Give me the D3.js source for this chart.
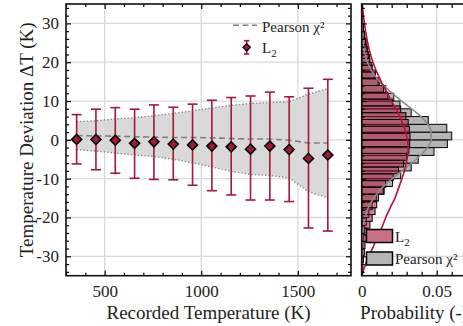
<!DOCTYPE html>
<html><head><meta charset="utf-8">
<script src="https://cdn.jsdelivr.net/npm/d3@7"></script>
<style>
body{margin:0;background:#fff;}
svg{display:block;font-family:"Liberation Serif","Times New Roman",serif;}
</style>
</head><body>
<svg id="c" width="463" height="326"></svg>
<script>
// ---------- data ----------
const temps        = [355,455,555,655,755,855,955,1055,1155,1255,1355,1455,1555,1655];
const l2Mean       = [0.1,0.1,-0.1,-0.9,-0.5,-1.1,-1.3,-1.6,-1.8,-2.4,-1.6,-2.5,-4.8,-3.9];
const l2Upper      = [6.5,7.9,8.3,7.9,9.0,8.4,9.2,10.2,10.9,11.3,12.3,11.1,13.3,15.6];
const l2Lower      = [-6.2,-7.7,-8.6,-9.9,-10.2,-10.3,-11.7,-13.1,-14.2,-15.5,-15.5,-15.9,-22.7,-23.5];
const pearsonMean  = [1.1,1.0,0.95,0.8,0.7,0.6,0.6,0.5,0.35,0.2,0.2,-0.1,-0.8,-0.8];
const pearsonUpper = [4.7,4.9,5.4,5.7,6.2,6.8,7.5,8.2,8.9,9.4,9.6,9.8,11.8,13.2];
const pearsonLower = [-2.5,-2.9,-3.4,-3.9,-4.3,-5.0,-5.9,-7.0,-8.1,-8.9,-9.2,-9.8,-13.4,-14.9];

// histogram of L2 deviations (bin width 1.75 K, from -35 to 35)
const histL2Start = -35, histL2Width = 1.75;
const histL2 = [0.0004,0.0008,0.0012,0.0018,0.0022,0.0030,0.0037,0.0055,0.0070,0.0089,
                0.0100,0.0112,0.0144,0.0160,0.0210,0.0245,0.0280,0.0300,0.0315,0.0320,
                0.0322,0.0318,0.0310,0.0295,0.0260,0.0205,0.0175,0.0145,0.0110,0.0090,
                0.0070,0.0055,0.0045,0.0035,0.0025,0.0018,0.0010,0.0006,0.0003,0.0001];
// histogram of Pearson deviations (bin width 2 K, from -34 to 34)
const histPStart = -34, histPWidth = 2;
const histPearson = [0,0.0002,0.0005,0.0008,0.0013,0.0020,0.0032,0.0048,0.0070,0.0098,
                     0.0150,0.0205,0.0260,0.0330,0.0377,0.0482,0.0571,0.0600,0.0567,0.0444,
                     0.0330,0.0255,0.0214,0.0160,0.0120,0.0092,0.0068,0.0052,0.0040,0.0030,
                     0.0020,0.0012,0.0006,0.0002];

// fitted density curves
const curveDT      = [-35,-32.5,-30,-27.5,-25,-22.5,-20,-17.5,-15,-12.5,-10,-7.5,-5,-2.5,0,
                      2.5,5,7.5,10,12.5,15,17.5,20,22.5,25,27.5,30,32.5,35];
const curveL2      = [0.0000,0.0022,0.0046,0.0078,0.0102,0.0135,0.0160,0.0190,0.0222,0.0245,0.0268,0.0288,0.0302,0.0310,0.0305,
                      0.0290,0.0265,0.0235,0.0198,0.0165,0.0130,0.0100,0.0075,0.0055,0.0040,0.0028,0.0018,0.0010,0.0005];
const curvePearson = [0.0000,0.0000,0.0001,0.0002,0.0004,0.0010,0.0022,0.0044,0.0080,0.0132,0.0203,0.0283,0.0364,0.0429,0.0464,
                      0.0460,0.0420,0.0349,0.0266,0.0189,0.0120,0.0071,0.0038,0.0018,0.0009,0.0004,0.0001,0.0000,0.0000];

const xTicks = [500,1000,1500];
const xMinor = [300,400,600,700,800,900,1100,1200,1300,1400,1600,1700];
const yTicks = [-30,-20,-10,0,10,20,30];
const yMinor = d3.range(-34,35,2).filter(v => v % 10 !== 0);
const pTicks = [0,0.05];
const pTickLabels = ["0","0.05"];
const pMinor = [0.01,0.02,0.03,0.04,0.06,0.07];

// ---------- colours ----------
const crimson = "#a6173c";
const svg = d3.select("#c");

// ---------- scales ----------
const L = 66, R = 351, T = 4, B = 275.7;
const HL = 361.7, HR = 466.7;
const x = d3.scaleLinear().domain([300,1775]).range([L,R]);
const y = d3.scaleLinear().domain([-35,35]).range([B,T]);
const px = d3.scaleLinear().domain([0,0.07]).range([HL,HR]);

// ---------- grid ----------
const grid = svg.append("g").attr("stroke","#dadada").attr("stroke-width",1.3);
grid.selectAll("line.gx").data(xTicks).join("line")
  .attr("x1",d=>x(d)).attr("x2",d=>x(d)).attr("y1",T).attr("y2",B);
grid.selectAll("line.gy").data(yTicks).join("line")
  .attr("x1",L).attr("x2",R).attr("y1",d=>y(d)).attr("y2",d=>y(d));
grid.selectAll("line.hy").data(yTicks).join("line").attr("class","hy")
  .attr("x1",HL).attr("x2",HR).attr("y1",d=>y(d)).attr("y2",d=>y(d));
grid.selectAll("line.hx").data([0.05]).join("line").attr("class","hx")
  .attr("x1",d=>px(d)).attr("x2",d=>px(d)).attr("y1",T).attr("y2",B);

// ---------- main panel ----------
const idx = d3.range(temps.length);
svg.append("path").datum(idx)
  .attr("fill","#d9d9d9")
  .attr("d", d3.area().x(i=>x(temps[i])).y0(i=>y(pearsonLower[i])).y1(i=>y(pearsonUpper[i])));
[pearsonUpper,pearsonLower].forEach(arr=>{
  svg.append("path").datum(idx).attr("fill","none").attr("stroke","#8a8a8a")
    .attr("stroke-width",1.4).attr("stroke-dasharray","1.4,2")
    .attr("d", d3.line().x(i=>x(temps[i])).y(i=>y(arr[i])));
});
svg.append("path").datum(idx).attr("fill","none").attr("stroke","#808080")
  .attr("stroke-width",1.6).attr("stroke-dasharray","6,3.5")
  .attr("d", d3.line().x(i=>x(temps[i])).y(i=>y(pearsonMean[i])));

const eb = svg.append("g").attr("stroke",crimson).attr("stroke-width",1.6);
eb.selectAll("line.v").data(idx).join("line")
  .attr("x1",i=>x(temps[i])).attr("x2",i=>x(temps[i]))
  .attr("y1",i=>y(l2Upper[i])).attr("y2",i=>y(l2Lower[i]));
eb.selectAll("line.ct").data(idx).join("line").attr("class","ct")
  .attr("x1",i=>x(temps[i])-5).attr("x2",i=>x(temps[i])+5)
  .attr("y1",i=>y(l2Upper[i])).attr("y2",i=>y(l2Upper[i]));
eb.selectAll("line.cb").data(idx).join("line").attr("class","cb")
  .attr("x1",i=>x(temps[i])-5).attr("x2",i=>x(temps[i])+5)
  .attr("y1",i=>y(l2Lower[i])).attr("y2",i=>y(l2Lower[i]));
const diamond = s => `M0,${-s}L${s},0L0,${s}L${-s},0Z`;
svg.selectAll("path.mk").data(idx).join("path").attr("class","mk")
  .attr("d",diamond(5)).attr("transform",i=>`translate(${x(temps[i])},${y(l2Mean[i])})`)
  .attr("fill","#a01a38").attr("stroke","#000").attr("stroke-width",1.6);

// axes main
function axisStyle(g){ g.select(".domain").remove(); g.selectAll("line").attr("stroke","#000").attr("stroke-width",1.2);
  g.selectAll("text").attr("font-size",17).attr("font-family","Liberation Serif").attr("fill","#222"); }
svg.append("g").attr("transform",`translate(${L},0)`)
  .call(d3.axisLeft(y).tickValues(yTicks).tickSize(-5).tickPadding(7).tickFormat(d=>String(d))).call(axisStyle);
svg.append("g").attr("transform",`translate(${L},0)`)
  .call(d3.axisLeft(y).tickValues(yMinor).tickSize(-3).tickFormat("")).call(axisStyle);
svg.append("g").attr("transform",`translate(${R},0)`)
  .call(d3.axisRight(y).tickValues(yTicks).tickSize(-5).tickFormat("")).call(axisStyle);
svg.append("g").attr("transform",`translate(${R},0)`)
  .call(d3.axisRight(y).tickValues(yMinor).tickSize(-3).tickFormat("")).call(axisStyle);
svg.append("g").attr("transform",`translate(0,${B})`)
  .call(d3.axisBottom(x).tickValues(xTicks).tickSize(-5).tickPadding(9).tickFormat(d=>String(d))).call(axisStyle);
svg.append("g").attr("transform",`translate(0,${B})`)
  .call(d3.axisBottom(x).tickValues(xMinor).tickSize(-3).tickFormat("")).call(axisStyle);
svg.append("g").attr("transform",`translate(0,${T})`)
  .call(d3.axisTop(x).tickValues(xTicks).tickSize(-5).tickFormat("")).call(axisStyle);
svg.append("g").attr("transform",`translate(0,${T})`)
  .call(d3.axisTop(x).tickValues(xMinor).tickSize(-3).tickFormat("")).call(axisStyle);
svg.append("rect").attr("x",L).attr("y",T).attr("width",R-L).attr("height",B-T)
  .attr("fill","none").attr("stroke","#111").attr("stroke-width",1.6);

// main legend
svg.append("line").attr("x1",233).attr("x2",257).attr("y1",25.3).attr("y2",25.3)
  .attr("stroke","#808080").attr("stroke-width",1.6).attr("stroke-dasharray","6,3.5");
svg.append("text").attr("x",262).attr("y",31.5).attr("font-size",15).attr("fill","#222").text("Pearson χ²");
svg.append("line").attr("x1",246.7).attr("x2",246.7).attr("y1",40.7).attr("y2",54).attr("stroke",crimson).attr("stroke-width",1.6);
svg.append("line").attr("x1",244).attr("x2",249.4).attr("y1",40.7).attr("y2",40.7).attr("stroke",crimson).attr("stroke-width",1.6);
svg.append("line").attr("x1",244).attr("x2",249.4).attr("y1",54).attr("y2",54).attr("stroke",crimson).attr("stroke-width",1.6);
svg.append("path").attr("d",diamond(3.6)).attr("transform","translate(246.7,47.3)")
  .attr("fill","#a01a38").attr("stroke","#000").attr("stroke-width",1.4);
const tL = svg.append("text").attr("x",262).attr("y",53.3).attr("font-size",15).attr("fill","#222");
tL.append("tspan").text("L"); tL.append("tspan").attr("dy",4).attr("font-size",11).text("2");

// axis titles
svg.append("text").attr("x",(L+R)/2).attr("y",319).attr("text-anchor","middle")
  .attr("font-size",19).attr("fill","#222").text("Recorded Temperature (K)");
svg.append("text").attr("transform",`translate(33,${(T+B)/2}) rotate(-90)`).attr("text-anchor","middle")
  .attr("font-size",19).attr("fill","#222").text("Temperature Deviation ΔT (K)");

// ---------- histogram panel ----------
svg.append("g").selectAll("rect").data(histPearson).join("rect")
  .attr("x",HL).attr("width",d=>px(d)-HL)
  .attr("y",(d,i)=>y(histPStart+(i+1)*histPWidth))
  .attr("height",(d,i)=>y(histPStart+i*histPWidth)-y(histPStart+(i+1)*histPWidth))
  .attr("fill","#b4b4b4").attr("stroke","#000").attr("stroke-width",1);
svg.append("g").selectAll("rect").data(histL2).join("rect")
  .attr("x",HL).attr("width",d=>px(d)-HL)
  .attr("y",(d,i)=>y(histL2Start+(i+1)*histL2Width))
  .attr("height",(d,i)=>y(histL2Start+i*histL2Width)-y(histL2Start+(i+1)*histL2Width))
  .attr("fill","rgba(170,20,60,0.55)").attr("stroke","#000").attr("stroke-width",1);
const cIdx = d3.range(curveDT.length);
svg.append("path").datum(cIdx).attr("fill","none").attr("stroke","#8c8c8c").attr("stroke-width",1.6)
  .attr("d", d3.line().curve(d3.curveMonotoneY).x(i=>px(curvePearson[i])).y(i=>y(curveDT[i])));
svg.append("path").datum(cIdx).attr("fill","none").attr("stroke","#b3123c").attr("stroke-width",1.6)
  .attr("d", d3.line().curve(d3.curveMonotoneY).x(i=>px(curveL2[i])).y(i=>y(curveDT[i])));

svg.append("g").attr("transform",`translate(0,${B})`)
  .call(d3.axisBottom(px).tickValues(pTicks).tickSize(-5).tickPadding(9).tickFormat((d,i)=>pTickLabels[i])).call(axisStyle);
svg.append("g").attr("transform",`translate(0,${B})`)
  .call(d3.axisBottom(px).tickValues(pMinor).tickSize(-4).tickFormat("")).call(axisStyle);
svg.append("g").attr("transform",`translate(0,${T})`)
  .call(d3.axisTop(px).tickValues(pTicks.concat(pMinor)).tickSize(-4).tickFormat("")).call(axisStyle);
svg.append("g").attr("transform",`translate(${HL},0)`)
  .call(d3.axisRight(y).tickValues(yTicks).tickSize(5).tickFormat("")).call(axisStyle);
svg.append("g").attr("transform",`translate(${HL},0)`)
  .call(d3.axisRight(y).tickValues(yMinor).tickSize(3).tickFormat("")).call(axisStyle);
svg.append("rect").attr("x",HL).attr("y",T).attr("width",HR-HL).attr("height",B-T)
  .attr("fill","none").attr("stroke","#111").attr("stroke-width",1.6);

// hist legend
svg.append("rect").attr("x",366.5).attr("y",229.5).attr("width",26).attr("height",13)
  .attr("fill","#c96f86").attr("stroke","#000").attr("stroke-width",1.5);
const tL2 = svg.append("text").attr("x",395).attr("y",241.5).attr("font-size",15).attr("fill","#222");
tL2.append("tspan").text("L"); tL2.append("tspan").attr("dy",4).attr("font-size",11).text("2");
svg.append("rect").attr("x",366.5).attr("y",252).attr("width",26).attr("height",13)
  .attr("fill","#b4b4b4").attr("stroke","#000").attr("stroke-width",1.5);
svg.append("text").attr("x",395).attr("y",264).attr("font-size",15).attr("fill","#222").text("Pearson χ²");

svg.append("text").attr("x",(HL+HR)/2).attr("y",319).attr("text-anchor","middle")
  .attr("font-size",19).attr("fill","#222").text("Probability (-)");
</script>
</body></html>
